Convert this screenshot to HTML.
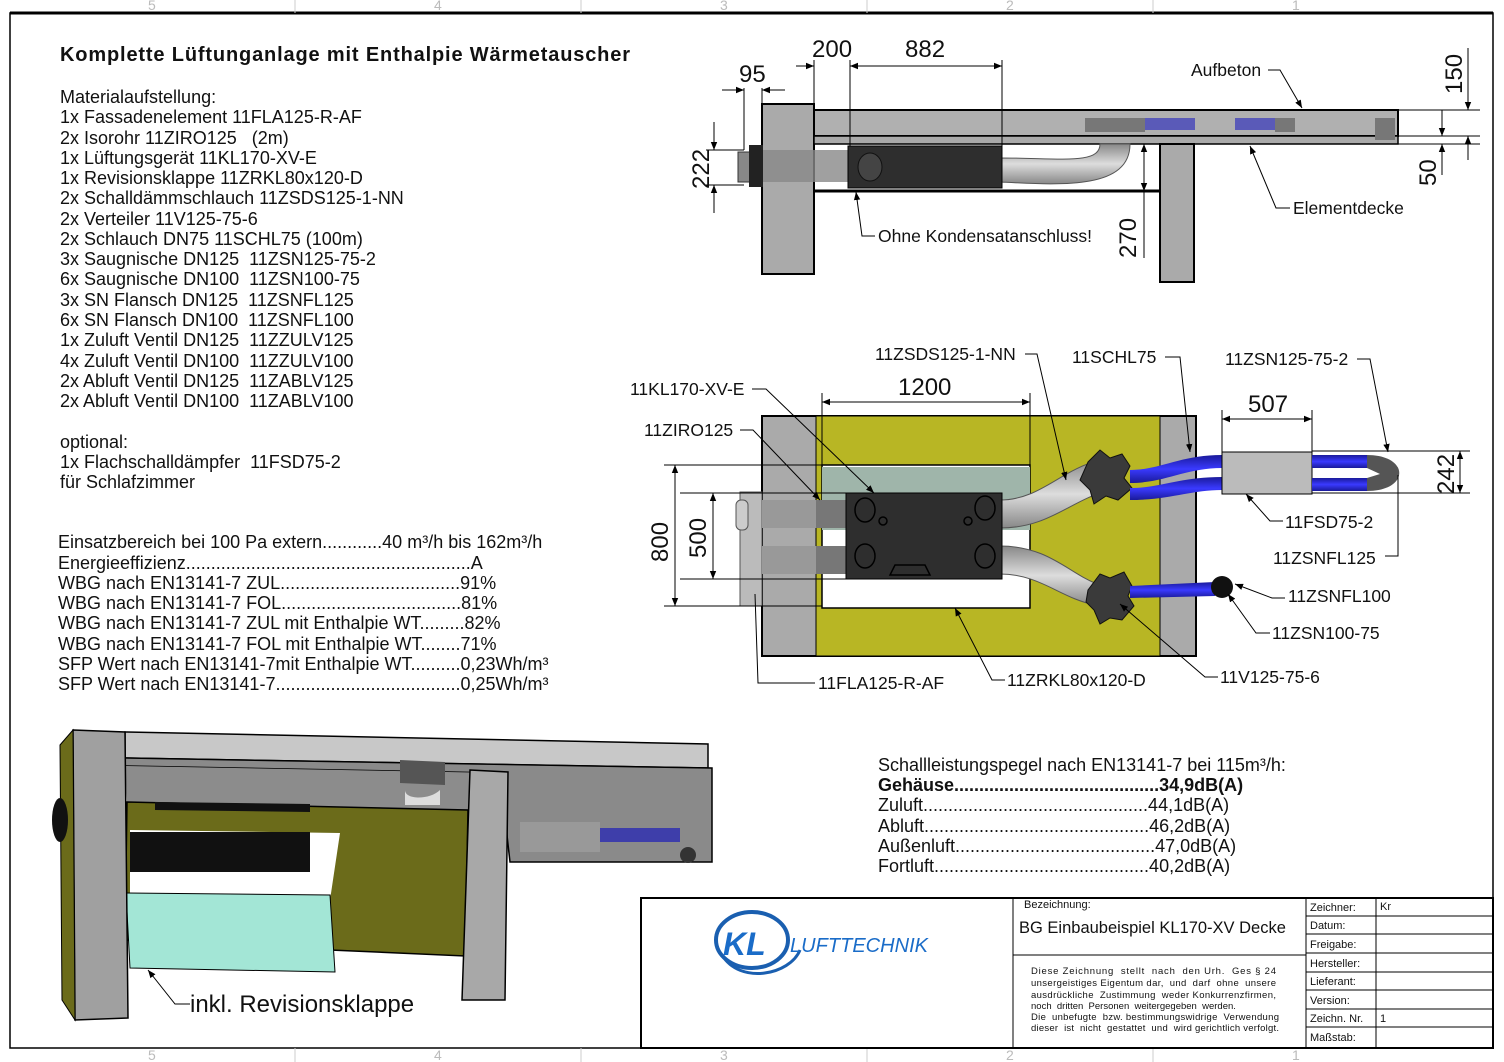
<!DOCTYPE html>
<html><head><meta charset="utf-8"><style>
html,body{margin:0;padding:0;background:#fff}
svg{display:block}
text{font-family:"Liberation Sans",sans-serif;fill:#111;white-space:pre}
.t{font-size:18px}
.s{font-size:17.5px}
.d{font-size:24px}
.z{font-size:14px;fill:#bbb}
</style></head><body>
<svg width="1504" height="1062" viewBox="0 0 1504 1062" xmlns="http://www.w3.org/2000/svg">
<defs>
<marker id="a" viewBox="0 0 10 10" refX="10" refY="5" markerWidth="8" markerHeight="8" orient="auto-start-reverse"><path d="M0,1 L10,5 L0,9z" fill="#000"/></marker>
<linearGradient id="pipe" x1="0" y1="0" x2="0" y2="1"><stop offset="0" stop-color="#888"/><stop offset=".5" stop-color="#ddd"/><stop offset="1" stop-color="#888"/></linearGradient>
<linearGradient id="blue" x1="0" y1="0" x2="0" y2="1"><stop offset="0" stop-color="#1a1a9a"/><stop offset=".5" stop-color="#3a3aff"/><stop offset="1" stop-color="#1a1a9a"/></linearGradient>
</defs>
<!-- frame -->
<rect x="10" y="13" width="1483" height="1035" fill="none" stroke="#000" stroke-width="1.5"/>
<line x1="10" y1="13" x2="1493" y2="13" stroke="#000" stroke-width="3"/>
<g stroke="#ccc"><line x1="295" y1="0" x2="295" y2="13"/><line x1="581" y1="0" x2="581" y2="13"/><line x1="867" y1="0" x2="867" y2="13"/><line x1="1153" y1="0" x2="1153" y2="13"/>
<line x1="295" y1="1048" x2="295" y2="1062"/><line x1="581" y1="1048" x2="581" y2="1062"/><line x1="867" y1="1048" x2="867" y2="1062"/><line x1="1153" y1="1048" x2="1153" y2="1062"/></g>
<text x="148" y="10" class="z">5</text><text x="434" y="10" class="z">4</text><text x="720" y="10" class="z">3</text><text x="1006" y="10" class="z">2</text><text x="1292" y="10" class="z">1</text>
<text x="148" y="1060" class="z">5</text><text x="434" y="1060" class="z">4</text><text x="720" y="1060" class="z">3</text><text x="1006" y="1060" class="z">2</text><text x="1292" y="1060" class="z">1</text>

<!-- left text -->
<text x="60" y="61" style="font-size:20px;font-weight:bold" textLength="570">Komplette Lüftunganlage mit Enthalpie Wärmetauscher</text>
<g class="t">
<text x="60" y="103">Materialaufstellung:</text>
<text x="60" y="123">1x Fassadenelement 11FLA125-R-AF</text>
<text x="60" y="144">2x Isorohr 11ZIRO125   (2m)</text>
<text x="60" y="164">1x Lüftungsgerät 11KL170-XV-E</text>
<text x="60" y="184">1x Revisionsklappe 11ZRKL80x120-D</text>
<text x="60" y="204">2x Schalldämmschlauch 11ZSDS125-1-NN</text>
<text x="60" y="225">2x Verteiler 11V125-75-6</text>
<text x="60" y="245">2x Schlauch DN75 11SCHL75 (100m)</text>
<text x="60" y="265">3x Saugnische DN125  11ZSN125-75-2</text>
<text x="60" y="285">6x Saugnische DN100  11ZSN100-75</text>
<text x="60" y="306">3x SN Flansch DN125  11ZSNFL125</text>
<text x="60" y="326">6x SN Flansch DN100  11ZSNFL100</text>
<text x="60" y="346">1x Zuluft Ventil DN125  11ZZULV125</text>
<text x="60" y="367">4x Zuluft Ventil DN100  11ZZULV100</text>
<text x="60" y="387">2x Abluft Ventil DN125  11ZABLV125</text>
<text x="60" y="407">2x Abluft Ventil DN100  11ZABLV100</text>
<text x="60" y="448">optional:</text>
<text x="60" y="468">1x Flachschalldämpfer  11FSD75-2</text>
<text x="60" y="488">für Schlafzimmer</text>
<text x="58" y="548">Einsatzbereich bei 100 Pa extern............40 m³/h bis 162m³/h</text>
<text x="58" y="569">Energieeffizienz.........................................................A</text>
<text x="58" y="589">WBG nach EN13141-7 ZUL....................................91%</text>
<text x="58" y="609">WBG nach EN13141-7 FOL....................................81%</text>
<text x="58" y="629">WBG nach EN13141-7 ZUL mit Enthalpie WT.........82%</text>
<text x="58" y="650">WBG nach EN13141-7 FOL mit Enthalpie WT........71%</text>
<text x="58" y="670">SFP Wert nach EN13141-7mit Enthalpie WT..........0,23Wh/m³</text>
<text x="58" y="690">SFP Wert nach EN13141-7.....................................0,25Wh/m³</text>
</g>

<!-- top side view -->
<rect x="762" y="104" width="52" height="170" fill="#aaa" stroke="#000" stroke-width="2"/>
<rect x="814" y="110" width="584" height="26" fill="#b0b0b0" stroke="#000" stroke-width="2"/>
<rect x="814" y="136" width="584" height="8" fill="#aaa" stroke="#000" stroke-width="1.5"/>
<rect x="1085" y="118" width="60" height="14" fill="#777"/><rect x="1145" y="118" width="50" height="12" fill="#5a5ab8"/><rect x="1235" y="118" width="40" height="12" fill="#5a5ab8"/><rect x="1275" y="118" width="20" height="14" fill="#777"/><rect x="1375" y="118" width="20" height="22" fill="#777"/>
<rect x="1160" y="144" width="34" height="138" fill="#aaa" stroke="#000" stroke-width="2"/>
<line x1="814" y1="191" x2="1160" y2="191" stroke="#000" stroke-width="3"/>
<path d="M1000,158 C1060,158 1100,165 1100,144 L1130,144 C1130,190 1060,185 1000,182z" fill="url(#pipe)" stroke="#555"/>
<rect x="750" y="150" width="100" height="32" fill="#888" opacity=".8"/>
<rect x="738" y="152" width="14" height="30" fill="#888" stroke="#333"/>
<rect x="848" y="146" width="154" height="42" fill="#2e2e2e" stroke="#000"/>
<ellipse cx="870" cy="167" rx="12" ry="14" fill="#444" stroke="#111"/>
<rect x="749" y="145" width="14" height="42" fill="#222"/>
<g stroke="#000" stroke-width="1" fill="none">
<line x1="762" y1="88" x2="762" y2="104"/><line x1="744" y1="88" x2="744" y2="150"/>
<line x1="722" y1="90" x2="744" y2="90" marker-end="url(#a)"/><line x1="785" y1="90" x2="762" y2="90" marker-end="url(#a)"/>
<line x1="814" y1="60" x2="814" y2="110"/><line x1="850" y1="60" x2="850" y2="146"/><line x1="1002" y1="60" x2="1002" y2="146"/>
<line x1="796" y1="66" x2="814" y2="66" marker-end="url(#a)"/><line x1="850" y1="66" x2="1002" y2="66" marker-start="url(#a)" marker-end="url(#a)"/>
<line x1="706" y1="150" x2="744" y2="150"/><line x1="706" y1="185" x2="744" y2="185"/>
<line x1="714" y1="122" x2="714" y2="150" marker-end="url(#a)"/><line x1="714" y1="213" x2="714" y2="185" marker-end="url(#a)"/>
<line x1="1144" y1="144" x2="1144" y2="191" marker-start="url(#a)" marker-end="url(#a)"/><line x1="1144" y1="191" x2="1144" y2="258"/>
<line x1="1398" y1="110" x2="1480" y2="110"/><line x1="1398" y1="136" x2="1480" y2="136"/><line x1="1398" y1="144" x2="1480" y2="144"/>
<line x1="1468" y1="48" x2="1468" y2="110" marker-end="url(#a)"/><line x1="1468" y1="160" x2="1468" y2="136" marker-end="url(#a)"/>
<line x1="1442" y1="110" x2="1442" y2="136" marker-end="url(#a)"/><line x1="1442" y1="175" x2="1442" y2="144" marker-end="url(#a)"/>
<polyline points="1268,70 1280,70 1302,108" marker-end="url(#a)"/>
<polyline points="1290,208 1276,208 1250,146" marker-end="url(#a)"/>
<polyline points="875,236 862,236 856,192" marker-end="url(#a)"/>
</g>
<text x="739" y="82" class="d">95</text><text x="812" y="57" class="d">200</text><text x="905" y="57" class="d">882</text>
<text transform="translate(709,189) rotate(-90)" class="d">222</text>
<text transform="translate(1136,258) rotate(-90)" class="d">270</text>
<text transform="translate(1462,94) rotate(-90)" class="d">150</text>
<text transform="translate(1436,186) rotate(-90)" class="d">50</text>
<text x="1191" y="76" class="s">Aufbeton</text><text x="1293" y="214" class="s">Elementdecke</text><text x="878" y="242" class="s">Ohne Kondensatanschluss!</text>

<!-- plan view -->
<rect x="762" y="416" width="434" height="240" fill="#aaa" stroke="#000" stroke-width="2"/>
<rect x="816" y="416" width="344" height="240" fill="#b8b624" stroke="#000" stroke-width="1"/>
<rect x="822" y="465" width="208" height="143" fill="#fff" stroke="#000" stroke-width="1.5"/>
<rect x="822" y="467" width="208" height="63" fill="#9fb5aa"/>
<rect x="740" y="492" width="22" height="114" fill="#bbb" stroke="#555"/>
<rect x="736" y="500" width="12" height="30" rx="5" fill="#ccc" stroke="#555"/>
<rect x="762" y="500" width="88" height="28" fill="#999"/><rect x="762" y="546" width="88" height="28" fill="#999"/>
<rect x="816" y="500" width="34" height="28" fill="#777"/><rect x="816" y="546" width="34" height="28" fill="#777"/>
<path d="M1000,500 C1040,500 1060,470 1100,460 L1110,490 C1070,500 1050,528 1000,528z" fill="url(#pipe)" stroke="#555"/>
<path d="M1000,546 C1050,546 1070,575 1100,585 L1095,605 C1060,598 1040,574 1000,574z" fill="url(#pipe)" stroke="#555"/>
<rect x="846" y="493" width="156" height="86" fill="#2e2e2e" stroke="#000"/>
<g fill="none" stroke="#000" stroke-width="1.5"><ellipse cx="865" cy="510" rx="10" ry="12"/><ellipse cx="985" cy="508" rx="10" ry="12"/><ellipse cx="865" cy="556" rx="10" ry="12"/><ellipse cx="985" cy="556" rx="10" ry="12"/><circle cx="883" cy="521" r="4"/><circle cx="968" cy="521" r="4"/><path d="M895,565 h30 l5,10 h-40z"/></g>
<path d="M1088,462 l12,-12 l10,8 l12,-4 l8,12 l-6,12 l8,10 l-14,12 l-12,-4 l-12,8 l-4,-14 l-10,-10z" fill="#3a3a3a" stroke="#111"/>
<path d="M1088,590 l12,-16 l10,4 l14,-6 l8,14 l-4,10 l6,10 l-12,14 l-12,-2 l-10,6 l-6,-14 l-8,-8z" fill="#3a3a3a" stroke="#111"/>
<path d="M1130,470 C1160,470 1180,455 1222,455 L1222,468 C1185,468 1165,483 1130,483z" fill="url(#blue)"/>
<path d="M1130,488 C1160,488 1180,477 1222,477 L1222,490 C1190,490 1170,500 1130,500z" fill="url(#blue)"/>
<path d="M1130,586 L1215,582 L1215,596 L1130,598z" fill="url(#blue)"/>
<circle cx="1222" cy="587" r="11" fill="#111"/>
<rect x="1222" y="452" width="90" height="42" fill="#bbb" stroke="#000"/>
<rect x="1312" y="455" width="55" height="13" fill="url(#blue)"/><rect x="1312" y="478" width="55" height="13" fill="url(#blue)"/>
<path d="M1367,455 C1410,455 1410,491 1367,491 L1367,478 L1380,474 L1367,468z" fill="#555"/>
<g stroke="#000" stroke-width="1" fill="none">
<line x1="822" y1="393" x2="822" y2="465"/><line x1="1030" y1="393" x2="1030" y2="465"/>
<line x1="822" y1="402" x2="1030" y2="402" marker-start="url(#a)" marker-end="url(#a)"/>
<line x1="1222" y1="410" x2="1222" y2="452"/><line x1="1312" y1="410" x2="1312" y2="452"/>
<line x1="1222" y1="419" x2="1312" y2="419" marker-start="url(#a)" marker-end="url(#a)"/>
<line x1="664" y1="465" x2="822" y2="465"/><line x1="664" y1="606" x2="822" y2="606"/>
<line x1="675" y1="465" x2="675" y2="606" marker-start="url(#a)" marker-end="url(#a)"/>
<line x1="680" y1="493" x2="846" y2="493"/><line x1="680" y1="579" x2="846" y2="579"/>
<line x1="713" y1="493" x2="713" y2="579" marker-start="url(#a)" marker-end="url(#a)"/>
<line x1="1312" y1="451" x2="1470" y2="451"/><line x1="1312" y1="493" x2="1470" y2="493"/>
<line x1="1460" y1="451" x2="1460" y2="493" marker-start="url(#a)" marker-end="url(#a)"/>
<polyline points="752,389 766,389 874,493" marker-end="url(#a)"/>
<polyline points="740,430 753,430 820,500" marker-end="url(#a)"/>
<polyline points="1025,354 1037,354 1066,480" marker-end="url(#a)"/>
<polyline points="1165,357 1180,357 1190,452" marker-end="url(#a)"/>
<polyline points="1357,359 1370,359 1388,452" marker-end="url(#a)"/>
<polyline points="1283,521 1270,521 1246,494" marker-end="url(#a)"/>
<polyline points="1385,556 1398,556 1398,475"/>
<polyline points="1285,598 1272,598 1235,584" marker-end="url(#a)"/>
<polyline points="1270,633 1256,633 1228,594" marker-end="url(#a)"/>
<polyline points="1218,677 1205,677 1120,604" marker-end="url(#a)"/>
<polyline points="1005,680 992,680 955,608" marker-end="url(#a)"/>
<polyline points="815,683 758,683 755,594"/>
</g>
<text x="898" y="395" class="d">1200</text><text x="1248" y="412" class="d">507</text>
<text transform="translate(668,562) rotate(-90)" class="d">800</text>
<text transform="translate(706,558) rotate(-90)" class="d">500</text>
<text transform="translate(1454,494) rotate(-90)" class="d">242</text>
<g class="s">
<text x="630" y="395">11KL170-XV-E</text><text x="644" y="436">11ZIRO125</text>
<text x="875" y="360">11ZSDS125-1-NN</text><text x="1072" y="363">11SCHL75</text><text x="1225" y="365">11ZSN125-75-2</text>
<text x="1285" y="528">11FSD75-2</text><text x="1273" y="564">11ZSNFL125</text><text x="1288" y="602">11ZSNFL100</text>
<text x="1272" y="639">11ZSN100-75</text><text x="1220" y="683">11V125-75-6</text><text x="1007" y="686">11ZRKL80x120-D</text><text x="818" y="689">11FLA125-R-AF</text>
</g>

<!-- 3D view -->
<path d="M125,732 L708,744 L708,768 L125,758z" fill="#c8c8c8" stroke="#000" stroke-width="1.5"/>
<path d="M125,758 L712,768 L712,862 L510,862 L500,773 L125,766z" fill="#8a8a8a" stroke="#000" stroke-width="1.5"/>
<path d="M125,766 L500,773 L470,810 L127,802z" fill="#8c8c8c"/>
<path d="M127,802 L468,810 L465,956 L330,950 L125,940z" fill="#6b6b1a" stroke="#000" stroke-width="1.5"/>
<path d="M130,830 L340,833 L330,900 L130,896z" fill="#fff"/>
<rect x="130" y="832" width="180" height="40" fill="#111"/>
<path d="M155,802 L310,804 L310,812 L155,810z" fill="#111"/>
<path d="M126,893 L330,895 L335,972 L130,968z" fill="#a3e6d6" stroke="#000"/>
<path d="M400,760 L445,762 L445,785 L400,783z" fill="#555"/><path d="M405,790 C405,800 430,800 440,790 L440,805 L405,805z" fill="#ddd"/>
<rect x="520" y="822" width="80" height="30" fill="#999"/><rect x="600" y="828" width="80" height="14" fill="#3e3eaa"/><circle cx="688" cy="855" r="8" fill="#333"/>
<path d="M73,730 L125,732 L128,1018 L75,1020z" fill="#a0a0a0" stroke="#000" stroke-width="1.5"/>
<path d="M60,745 L73,730 L75,1020 L62,1000z" fill="#6b6b1a" stroke="#000"/>
<ellipse cx="60" cy="820" rx="8" ry="22" fill="#111"/>
<path d="M470,770 L508,772 L505,1000 L462,1000z" fill="#a8a8a8" stroke="#000" stroke-width="1.5"/>
<polyline points="190,1004 175,1004 148,970" fill="none" stroke="#000" marker-end="url(#a)"/>
<text x="190" y="1012" style="font-size:24px">inkl. Revisionsklappe</text>

<!-- sound -->
<g class="t">
<text x="878" y="771">Schallleistungspegel nach EN13141-7 bei 115m³/h:</text>
<text x="878" y="791" style="font-weight:bold">Gehäuse.........................................34,9dB(A)</text>
<text x="878" y="811">Zuluft.............................................44,1dB(A)</text>
<text x="878" y="832">Abluft.............................................46,2dB(A)</text>
<text x="878" y="852">Außenluft........................................47,0dB(A)</text>
<text x="878" y="872">Fortluft...........................................40,2dB(A)</text>
</g>

<!-- title block -->
<g stroke="#000" fill="none">
<rect x="641" y="898" width="852" height="150" stroke-width="2"/>
<line x1="1013" y1="898" x2="1013" y2="1048"/><line x1="1306" y1="898" x2="1306" y2="1048"/><line x1="1376" y1="898" x2="1376" y2="1048"/>
<line x1="1013" y1="955" x2="1306" y2="955"/>
<line x1="1306" y1="916" x2="1493" y2="916"/><line x1="1306" y1="934" x2="1493" y2="934"/><line x1="1306" y1="953" x2="1493" y2="953"/><line x1="1306" y1="972" x2="1493" y2="972"/><line x1="1306" y1="990" x2="1493" y2="990"/><line x1="1306" y1="1009" x2="1493" y2="1009"/><line x1="1306" y1="1027" x2="1493" y2="1027"/>
</g>
<g style="font-size:11px">
<text x="1310" y="911">Zeichner:</text><text x="1380" y="910">Kr</text><text x="1310" y="929">Datum:</text><text x="1310" y="948">Freigabe:</text><text x="1310" y="967">Hersteller:</text><text x="1310" y="985">Lieferant:</text><text x="1310" y="1004">Version:</text><text x="1310" y="1022">Zeichn. Nr.</text><text x="1380" y="1022">1</text><text x="1310" y="1041">Maßstab:</text>
<text x="1024" y="908">Bezeichnung:</text>
</g>
<text x="1019" y="933" style="font-size:16.5px">BG Einbaubeispiel KL170-XV Decke</text>
<g style="font-size:9.5px">
<text x="1031" y="974" textLength="245">Diese Zeichnung  stellt  nach  den Urh.  Ges § 24</text>
<text x="1031" y="986" textLength="245">unsergeistiges Eigentum dar,  und  darf  ohne  unsere</text>
<text x="1031" y="998" textLength="245">ausdrückliche  Zustimmung  weder Konkurrenzfirmen,</text>
<text x="1031" y="1009">noch  dritten  Personen  weitergegeben  werden.</text>
<text x="1031" y="1020" textLength="248">Die  unbefugte  bzw. bestimmungswidrige  Verwendung</text>
<text x="1031" y="1031" textLength="248">dieser  ist  nicht  gestattet  und  wird gerichtlich verfolgt.</text>
</g>
<!-- logo -->
<ellipse cx="752" cy="940" rx="36" ry="28" fill="none" stroke="#1a5fb0" stroke-width="4"/>
<path d="M722,955 C740,985 790,975 800,950" fill="none" stroke="#1a5fb0" stroke-width="3"/>
<text x="723" y="955" style="font-size:32px;font-weight:bold;font-style:italic;fill:#1a6cc8">KL</text>
<text x="790" y="952" style="font-size:20px;font-style:italic;fill:#1a6cc8" textLength="138">LUFTTECHNIK</text>
</svg>
</body></html>
